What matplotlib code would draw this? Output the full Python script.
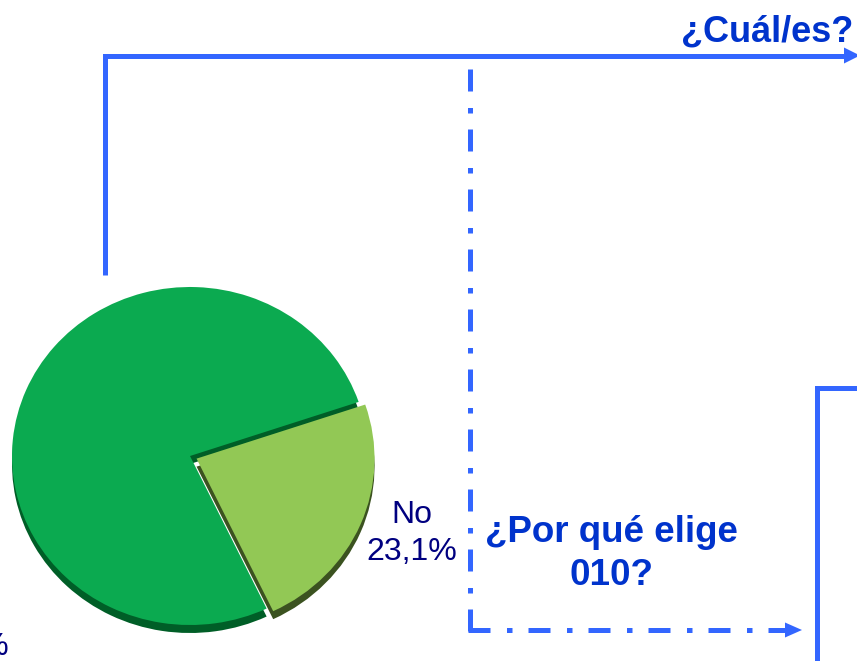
import matplotlib
matplotlib.use('Agg')
import matplotlib.pyplot as plt
from matplotlib.patches import Polygon

plt.rcParams['font.family'] = ['Liberation Sans', 'DejaVu Sans']

# data
categories = ['No', 'Sí']
shares = [23.1, 76.9]
faceColors = ['#92C855', '#0BAA50']
depthColors = ['#3B5220', '#005E27']
questionTop = '¿Cuál/es?'
questionBottom = ['¿Por qué elige', '010?']

W, H = 857, 661
lineBlue = '#3366FF'
textBlue = '#0033CC'
navy = '#000080'

fig = plt.figure(figsize=(W / 100, H / 100), dpi=100)

# pie axes, slightly squashed vertically to mimic the tilted 3D pie
cx, cy, rx, ry = 190, 456, 178, 169
span = 1.2
pieAx = fig.add_axes([(cx - span * rx) / W, (H - cy - span * ry) / H,
                      2 * span * rx / W, 2 * span * ry / H])
depth = 8 / ry
explode = [0.04, 0]
pieAx.pie(shares, colors=depthColors, startangle=-64.5, explode=explode,
          center=(0, -depth), wedgeprops=dict(linewidth=0))
pieAx.pie(shares, colors=faceColors, startangle=-64.5, explode=explode,
          center=(0, 0), wedgeprops=dict(linewidth=0))
pieAx.set_aspect('auto')
pieAx.set_xlim(-span, span)
pieAx.set_ylim(-span, span)
pieAx.axis('off')

# overlay in pixel coordinates for arrows and text
ov = fig.add_axes([0, 0, 1, 1])
ov.set_xlim(0, W)
ov.set_ylim(H, 0)
ov.axis('off')
ov.patch.set_alpha(0)

lw = 3.6  # ~5 px
ov.plot([105, 105, 847], [275, 55.5, 55.5], color=lineBlue, lw=lw,
        solid_joinstyle='miter', solid_capstyle='butt')
ov.add_patch(Polygon([[844, 47.5], [860, 55.5], [844, 63.5]], closed=True,
                     color=lineBlue, lw=0))

ov.plot([862, 817, 817], [388, 388, 665], color=lineBlue, lw=lw,
        solid_joinstyle='miter', solid_capstyle='butt')

dashDot = (0, (4.4, 3.3, 1.1, 3.2))
ov.plot([470.5, 470.5], [69, 632], color=lineBlue, lw=lw, linestyle=dashDot,
        dash_capstyle='butt')
ov.plot([468, 787], [630, 630], color=lineBlue, lw=lw, linestyle=dashDot,
        dash_capstyle='butt')
ov.add_patch(Polygon([[785, 622.5], [802, 630], [785, 637.5]], closed=True,
                     color=lineBlue, lw=0))

# questions
ov.text(853, 42, questionTop, ha='right', va='baseline', fontsize=26,
        fontweight='bold', color=textBlue)
ov.text(611.5, 541.5, questionBottom[0], ha='center', va='baseline',
        fontsize=26.5, fontweight='bold', color=textBlue)
ov.text(611.5, 585, questionBottom[1], ha='center', va='baseline',
        fontsize=26.5, fontweight='bold', color=textBlue)

# pie labels (the big slice's label sits mostly off the left edge)
labelPos = [(412, 523), (-36, 618)]
for cat, val, (lx, ly) in zip(categories, shares, labelPos):
    pct = f"{val:.1f}".replace('.', ',') + '%'
    ov.text(lx, ly, cat, ha='center', va='baseline', fontsize=23, color=navy)
    ov.text(lx, ly + 37, pct, ha='center', va='baseline', fontsize=23, color=navy)

fig.savefig('out.png', dpi=100)
